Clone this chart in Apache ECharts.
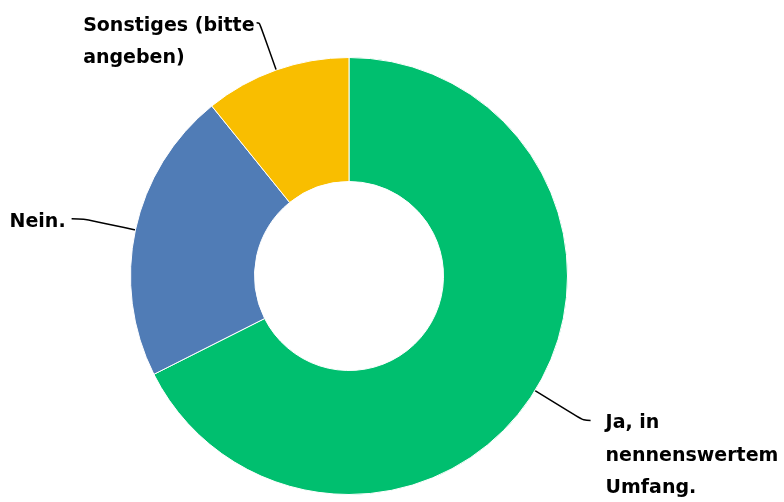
<!DOCTYPE html>
<html>
<head>
<meta charset="utf-8">
<script src="https://cdn.jsdelivr.net/npm/echarts@6/dist/echarts.min.js"></script>
<style>
html,body{margin:0;padding:0;background:#fff;}
#chart{width:784px;height:502px;}
</style>
</head>
<body>
<div id="chart"></div>
<script>
var categories = ['Ja, in nennenswertem Umfang.', 'Nein.', 'Sonstiges (bitte angeben)'];
var values = [67.57, 21.62, 10.81];
var colors = ['#00BF6F', '#507CB6', '#F9BE00'];

var FONT_SIZE = 19;
var FONT_FAMILY = 'DejaVu Sans';
var LINE_H = 32.5;
var WRAP_W = 200;

var measureCtx = document.createElement('canvas').getContext('2d');
function textWidth(s) {
  measureCtx.font = 'bold ' + FONT_SIZE + 'px "' + FONT_FAMILY + '"';
  return measureCtx.measureText(s).width;
}
function wrapText(s, w) {
  var words = s.split(' ');
  var lines = [];
  var cur = '';
  words.forEach(function (wd) {
    var t = cur ? cur + ' ' + wd : wd;
    if (cur && textWidth(t) > w) { lines.push(cur); cur = wd; }
    else { cur = t; }
  });
  if (cur) lines.push(cur);
  return lines.join('\n');
}

var labelDist = [15, 6, 2];
var lineLen1 = [57, 53, 50];
var lineLen2 = [7, 12, 3];

var chart = echarts.init(document.getElementById('chart'), null, {renderer: 'canvas'});

var data = categories.map(function (c, i) {
  return {
    name: c,
    value: values[i],
    itemStyle: {color: colors[i]},
    label: {distanceToLabelLine: labelDist[i]},
    labelLine: {length: lineLen1[i], length2: lineLen2[i]}
  };
});

chart.setOption({
  animation: false,
  backgroundColor: '#fff',
  series: [{
    type: 'pie',
    left: 0, top: 0, width: 784, height: 502,
    center: [349, 276],
    radius: [94.5, 218.5],
    startAngle: 90,
    clockwise: true,
    avoidLabelOverlap: false,
    itemStyle: {borderColor: '#fff', borderWidth: 1},
    label: {
      show: true,
      position: 'outside',
      formatter: function (p) { return wrapText(p.name, WRAP_W); },
      color: '#000',
      fontFamily: FONT_FAMILY,
      fontWeight: 'bold',
      fontSize: FONT_SIZE,
      lineHeight: LINE_H
    },
    labelLine: {
      show: true,
      length: 52,
      length2: 8,
      smooth: 0.4,
      lineStyle: {color: '#000', width: 1.5}
    },
    labelLayout: function (p) {
      var pts = p.labelLinePoints;
      if (!pts) return {};
      var end = pts[pts.length - 1];
      var out = {
        y: end[1] - LINE_H / 2 + 3,
        verticalAlign: 'top',
        labelLinePoints: pts
      };
      if (p.align === 'right') {
        out.x = p.labelRect.x;
        out.align = 'left';
      }
      return out;
    },
    emphasis: {disabled: true},
    data: data
  }]
});
</script>
</body>
</html>
